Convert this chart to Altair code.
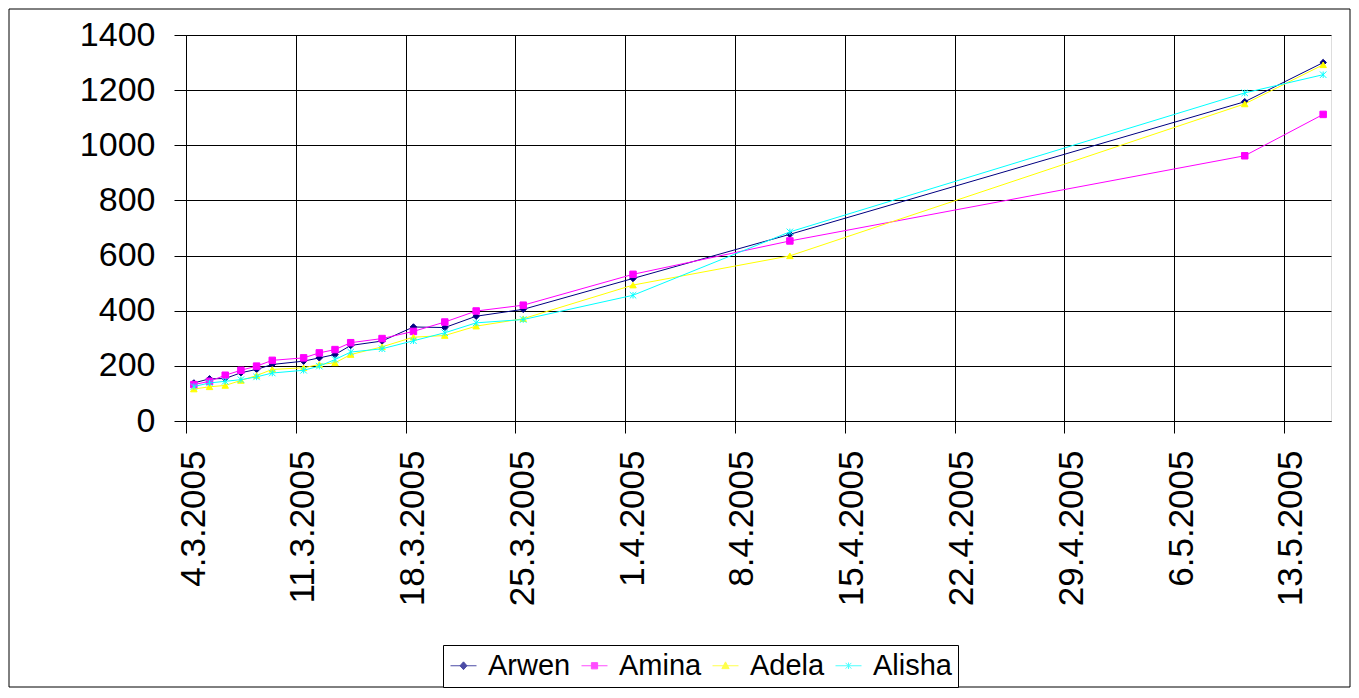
import altair as alt
import pandas as pd

# ---- data ----
dates = ["2005-03-04", "2005-03-05", "2005-03-06", "2005-03-07", "2005-03-08",
         "2005-03-09", "2005-03-11", "2005-03-12", "2005-03-13", "2005-03-14",
         "2005-03-16", "2005-03-18", "2005-03-20", "2005-03-22", "2005-03-25",
         "2005-04-01", "2005-04-11", "2005-05-10", "2005-05-15"]
arwen = [138, 153, 154, 175, 187, 205, 217, 229, 241, 274, 290, 341, 339, 380, 405, 517, 677, 1158, 1300]
amina = [132, 144, 166, 184, 199, 220, 229, 247, 259, 284, 299, 325, 359, 399, 420, 532, 653, 962, 1112]
adela = [116, 124, 129, 147, 165, 187, 193, 205, 211, 241, 269, 304, 310, 344, 371, 493, 599, 1150, 1292]
alisha = [125, 138, 144, 150, 160, 174, 184, 199, 223, 250, 262, 291, 320, 356, 368, 456, 686, 1190, 1256]

names = ["Arwen", "Amina", "Adela", "Alisha"]
colors = ["#000080", "#FF00FF", "#FFFF00", "#00FFFF"]
tick_dates = [(2005, 3, 4), (2005, 3, 11), (2005, 3, 18), (2005, 3, 25), (2005, 4, 1),
              (2005, 4, 8), (2005, 4, 15), (2005, 4, 22), (2005, 4, 29), (2005, 5, 6),
              (2005, 5, 13)]
y_ticks = [0, 200, 400, 600, 800, 1000, 1200, 1400]

marker_shapes = ["diamond", "square", "triangle-up",
                 "M-1,-1L1,1M-1,1L1,-1M0,-1L0,1"]
legend_shapes = ["M-1,0H1M0,-0.3L0.27,0L0,0.3L-0.27,0Z",
                 "M-1,0H1M-0.24,-0.24H0.24V0.24H-0.24Z",
                 "M-1,0H1M0,-0.3L0.28,0.22H-0.28Z",
                 "M-1,0H1M-0.22,-0.22L0.22,0.22M-0.22,0.22L0.22,-0.22M0,-0.25L0,0.25"]

series = {"Arwen": arwen, "Amina": amina, "Adela": adela, "Alisha": alisha}
rows = []
for name in names:
    for d, v in zip(dates, series[name]):
        # Excel date axis places each point in the middle of its day
        t = (pd.Timestamp(d) + pd.Timedelta(hours=12)).strftime("%Y-%m-%dT%H:%M:%SZ")
        rows.append({"date": t, "value": v, "series": name})
df = pd.DataFrame(rows)

FONT = "Liberation Sans"

x_enc = alt.X(
    "date:T",
    scale=alt.Scale(type="utc",
                    domain=[alt.DateTime(year=2005, month=3, date=4, utc=True),
                            alt.DateTime(year=2005, month=5, date=16, utc=True)]),
    axis=alt.Axis(
        values=[alt.DateTime(year=y, month=m, date=d, utc=True) for (y, m, d) in tick_dates],
        labelExpr="utcFormat(datum.value, '%-d.%-m.%Y')",
        labelAngle=270, labelAlign="right", labelBaseline="middle",
        labelFontSize=35, labelFont=FONT, labelColor="black",
        labelPadding=17, labelOffset=7, labelOverlap=False, labelFlush=False,
        tickSize=12, tickColor="black", domainColor="black",
        grid=True, gridColor="black", gridWidth=1, title=None),
)
y_enc = alt.Y(
    "value:Q",
    scale=alt.Scale(domain=[0, 1400], nice=False),
    axis=alt.Axis(values=y_ticks, format="d", labelFontSize=34, labelFont=FONT,
                  labelColor="black", labelPadding=19, labelFlush=False, labelOverlap=False,
                  tickSize=12, tickColor="black", domainColor="black",
                  grid=True, gridColor="black", gridWidth=1, title=None),
)
color_scale = alt.Scale(domain=names, range=colors)

base = alt.Chart(df)

# one line + marker layer per series (Excel draws series in order)
series_layers = []
for name, col, shp in zip(names, colors, marker_shapes):
    sub = base.transform_filter(alt.datum.series == name)
    series_layers.append(sub.mark_line(strokeWidth=1, color=col).encode(x=x_enc, y=y_enc))
    series_layers.append(
        sub.mark_point(filled=True, size=42, strokeWidth=1, opacity=1, shape=shp,
                       fill=col, stroke=col).encode(x=x_enc, y=y_enc)
    )

legend_kw = dict(orient="none", legendX=257, legendY=610, direction="horizontal",
                 title=None, labelFontSize=29, labelFont=FONT, labelColor="black",
                 symbolSize=676, symbolStrokeWidth=1, labelOffset=10, columnPadding=8,
                 padding=6, strokeColor="black", fillColor="white")

# zero-size layer that only carries the legend (line + marker symbols)
legend_layer = base.mark_point(filled=True, strokeWidth=1, size=0).encode(
    x=x_enc, y=y_enc,
    color=alt.Color("series:N", scale=color_scale, legend=alt.Legend(**legend_kw)),
    stroke=alt.Stroke("series:N", scale=color_scale, legend=alt.Legend(**legend_kw)),
    shape=alt.Shape("series:N", scale=alt.Scale(domain=names, range=legend_shapes),
                    legend=alt.Legend(**legend_kw)),
)

border = alt.Chart(alt.Data(values=[{"k": 1}])).mark_rect(
    fill="transparent", stroke="black", strokeWidth=1
).encode(x=alt.value(-177), x2=alt.value(1164), y=alt.value(-26), y2=alt.value(652))

chart = alt.layer(border, legend_layer, *series_layers).properties(
    width=1145, height=386,
    autosize=alt.AutoSizeParams(type="none"),
    padding={"left": 178, "top": 27, "right": 20, "bottom": 268},
).configure_view(
    fill="#C0C0C0", stroke="#808080", strokeWidth=1
).configure(background="white")

chart.save("out.html", embed_options={"renderer": "svg", "actions": False})
